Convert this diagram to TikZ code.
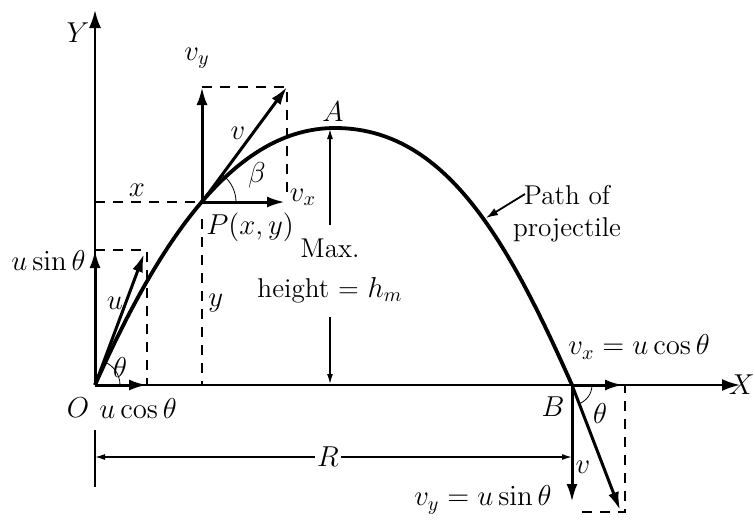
\documentclass[tikz,border=0pt]{standalone}
\usepackage{amsmath,amssymb}
\usetikzlibrary{arrows.meta,positioning}
\begin{document}
\begin{tikzpicture}[x=0.5pt,y=0.5pt]
\tikzset{
  axisline/.style={line width=1.1pt,-{Latex[length=9pt,width=6pt]}},
  vecarrow/.style={line width=1.5pt,-{Latex[length=9pt,width=5.5pt]}},
  guide/.style={line width=0.9pt,dash pattern=on 5pt off 4pt},
  dimarrow/.style={line width=0.7pt,-{Latex[length=5pt,width=3pt]}},
  pathline/.style={line width=1.9pt},
  lbl/.style={inner sep=1pt,font=\fontsize{13.6}{16}\selectfont}
}
\useasboundingbox (0,0) rectangle (755,527);
\coordinate (O) at (95,142);
\coordinate (Y_tip) at (95,517);
\coordinate (X_tip) at (740,142);
\coordinate (P) at (202,325);
\coordinate (A) at (335,399);
\coordinate (B) at (572,142);
\coordinate (u_end) at (144,273);
\coordinate (u_sin) at (95,277);
\coordinate (u_cos) at (147,142);
\coordinate (u_corner) at (147,277);
\coordinate (p_vy) at (202,440);
\coordinate (p_v) at (287,440);
\coordinate (p_vx) at (285,325);
\coordinate (b_vx) at (623,142);
\coordinate (b_vy) at (572,25);
\coordinate (b_v) at (620,17);
\coordinate (b_corner) at (625,15);
\coordinate (h_top) at (330,398);
\coordinate (h_bot) at (330,143);
\coordinate (h_up) at (330,302);
\coordinate (h_down) at (330,210);
\coordinate (path_tail) at (525,333);
\coordinate (path_head) at (486,309);
% axes
\draw[axisline] (O) -- (Y_tip);
\draw[axisline] (O) -- (X_tip);
\node[lbl] (n_Y) at (78,494) {$Y$};
\node[lbl,anchor=east,inner sep=0pt] (n_X) at (755,142) {$X$};
% trajectory
\draw[pathline] (O) .. controls (160,288) and (235,399) .. (A)
  .. controls (445,399) and (507,288) .. (B);
% launch point
\draw[vecarrow] (O) -- (u_end);
\draw[vecarrow] (O) -- (u_sin);
\draw[vecarrow] (O) -- (u_cos);
\draw[guide] (u_sin) -- (u_corner) -- (u_cos);
\draw (O) ++(25,0) arc[start angle=0,end angle=69,radius=25];
\node[lbl] (n_O) at (78,119) {$O$};
\node[lbl,anchor=west] (n_ucos) at (97,119) {$u\cos\theta$};
\node[lbl,anchor=east] (n_usin) at (88,267) {$u\sin\theta$};
\node[lbl] (n_th_O) at (120,160) {$\theta$};
\node[lbl] (n_u) at (115,224) {$u$};
% point P
\draw[guide] (95,325) -- (P);
\draw[guide] (202,308) -- (202,142);
\draw[guide] (p_vy) -- (p_v) -- (287,330);
\draw[vecarrow] (P) -- (p_vy);
\draw[vecarrow] (P) -- (p_v);
\draw[vecarrow] (P) -- (p_vx);
\draw (P) ++(34,0) arc[start angle=0,end angle=53,radius=34];
\node[lbl] (n_x) at (137,337) {$x$};
\node[lbl,anchor=west] (n_y) at (206,224) {$y$};
\node[lbl,anchor=west] (n_P) at (204,300) {$P(x,y)$};
\node[lbl] (n_vy) at (197,469) {$v_y$};
\node[lbl] (n_v) at (238,394) {$v$};
\node[lbl] (n_beta) at (257,352) {$\beta$};
\node[lbl] (n_vx) at (303,330) {$v_x$};
% maximum height
\node[lbl] (n_A) at (333,415) {$A$};
\draw[dimarrow] (h_up) -- (h_top);
\draw[dimarrow] (h_down) -- (h_bot);
\node[lbl] (n_max) at (330,279) {Max.};
\node[lbl] (n_height) at (330,237) {height = $h_m$};
\node[lbl,align=center] (n_path) at (567,313) {Path of\\projectile};
\draw[line width=0.9pt,-{Latex[length=6pt,width=4pt]}] (path_tail) -- (path_head);
% landing point
\draw[vecarrow] (B) -- (b_vx);
\draw[vecarrow] (B) -- (b_vy);
\draw[vecarrow] (B) -- (b_v);
\draw[guide] (b_vx) -- (625,142) -- (b_corner) -- (575,15);
\draw (B) ++(20,0) arc[start angle=0,end angle=-69,radius=20];
\node[lbl,anchor=west] (n_vxB) at (566,180) {$v_x = u\cos\theta$};
\node[lbl] (n_B) at (553,120) {$B$};
\node[lbl] (n_th_B) at (600,114) {$\theta$};
\node[lbl] (n_vB) at (583,60) {$v$};
\node[lbl,anchor=east] (n_vyB) at (554,27) {$v_y = u\sin\theta$};
% range
\draw[line width=0.7pt] (95,97) -- (95,40);
\node[lbl,fill=white] (n_R) at (328,70) {$R$};
\draw[dimarrow] (n_R) -- (95,70);
\draw[dimarrow] (n_R) -- (572,70);
\end{tikzpicture}
\end{document}
